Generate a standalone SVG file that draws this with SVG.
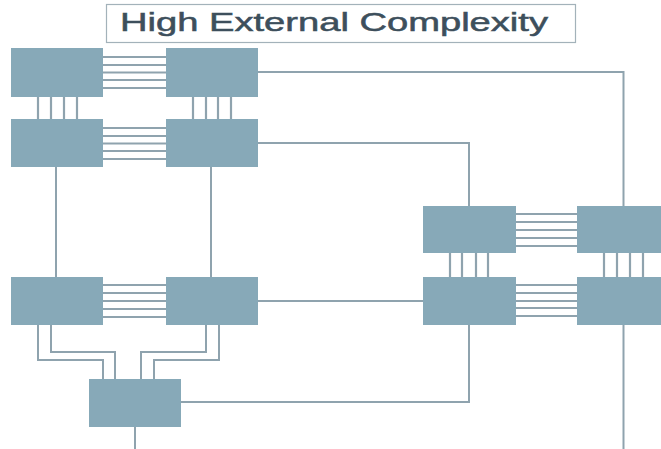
<svg xmlns="http://www.w3.org/2000/svg" width="661" height="449" viewBox="0 0 661 449">
  <style>
    .node { fill: #87a9b8; }
    .bus { stroke: #8fa3ae; stroke-width: 2.2; fill: none; }
    .wire { stroke: #8fa3ae; stroke-width: 2; fill: none; }
    .title-box { fill: #ffffff; stroke: #a3b2ba; stroke-width: 1.2; }
    .title { font-family: "Liberation Sans", Arial, sans-serif; font-size: 25px; fill: #3d4f5c; stroke: #3d4f5c; stroke-width: 0.5; }
  </style>
  <rect width="661" height="449" fill="#ffffff"/>

  <!-- title -->
  <g id="title">
    <rect class="title-box" x="106.5" y="4.5" width="469" height="38"/>
    <text class="title" x="120" y="31" textLength="428" lengthAdjust="spacingAndGlyphs">High External Complexity</text>
  </g>

  <!-- connectors -->
  <g id="connectors">
    <!-- horizontal buses, left cluster -->
    <path class="bus" d="M103 57H166M103 65H166M103 72.5H166M103 80H166M103 88H166"/>
    <path class="bus" d="M103 128H166M103 136H166M103 143.5H166M103 151H166M103 159H166"/>
    <path class="bus" d="M103 285H166M103 293H166M103 301H166M103 309H166M103 317H166"/>
    <!-- vertical buses, left cluster -->
    <path class="bus" d="M38 97V119M51 97V119M64 97V119M77 97V119"/>
    <path class="bus" d="M193 97V119M206 97V119M218 97V119M231 97V119"/>
    <!-- horizontal buses, right cluster -->
    <path class="bus" d="M516 214H577M516 222H577M516 230H577M516 238H577M516 246H577"/>
    <path class="bus" d="M516 285H577M516 293H577M516 301H577M516 308H577M516 316H577"/>
    <!-- vertical buses, right cluster -->
    <path class="bus" d="M450 253V277M462 253V277M476 253V277M488 253V277"/>
    <path class="bus" d="M604 253V277M617 253V277M630 253V277M643 253V277"/>
    <!-- long links -->
    <path class="wire" d="M56 167V277"/>
    <path class="wire" d="M211 167V277"/>
    <path class="wire" d="M258 72H623.5V206"/>
    <path class="wire" d="M258 143H469V206"/>
    <path class="wire" d="M258 301H423"/>
    <path class="wire" d="M469 325V402H181"/>
    <path class="wire" d="M623.5 325V449"/>
    <path class="wire" d="M135 427V449"/>
    <!-- links into the bottom node -->
    <path class="wire" d="M38 325V360H103V379"/>
    <path class="wire" d="M51 325V352H115V379"/>
    <path class="wire" d="M206 325V352H141V379"/>
    <path class="wire" d="M219 325V360H154V379"/>
  </g>

  <!-- nodes -->
  <g id="n-a1"><rect class="node" x="11" y="48" width="92" height="49"/></g>
  <g id="n-a2"><rect class="node" x="166" y="48" width="92" height="49"/></g>
  <g id="n-b1"><rect class="node" x="11" y="119" width="92" height="48"/></g>
  <g id="n-b2"><rect class="node" x="166" y="119" width="92" height="48"/></g>
  <g id="n-c1"><rect class="node" x="11" y="277" width="92" height="48"/></g>
  <g id="n-c2"><rect class="node" x="166" y="277" width="92" height="48"/></g>
  <g id="n-d"><rect class="node" x="89" y="379" width="92" height="48"/></g>
  <g id="n-e1"><rect class="node" x="423" y="206" width="93" height="47"/></g>
  <g id="n-e2"><rect class="node" x="577" y="206" width="84" height="47"/></g>
  <g id="n-f1"><rect class="node" x="423" y="277" width="93" height="48"/></g>
  <g id="n-f2"><rect class="node" x="577" y="277" width="84" height="48"/></g>
</svg>
